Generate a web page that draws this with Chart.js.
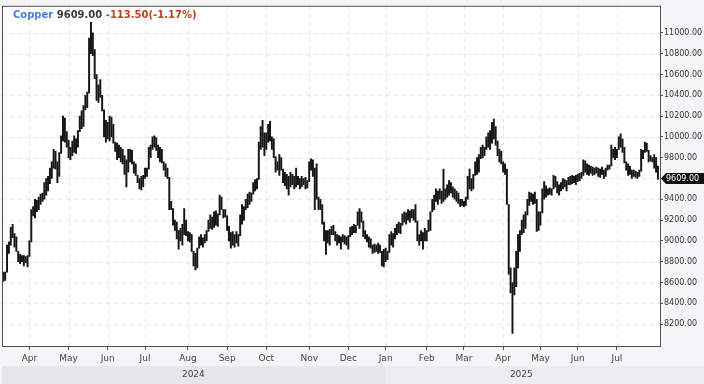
<!DOCTYPE html>
<html>
<head>
<meta charset="utf-8">
<title>Copper</title>
<script src="https://cdn.jsdelivr.net/npm/chart.js@4.4.1/dist/chart.umd.min.js"></script>
<style>
    html, body { margin: 0; padding: 0; background: #f4f5f6; }
    canvas { display: block; }
</style>
</head>
<body>
<canvas id="chart" width="704" height="384"></canvas>
<script>
// daily low / high per trading session, 11 Mar 2024 .. 31 Jul 2025
const lows = [
    8610,8620,8700,8880,8960,9030,8940,8900,8800,8780,
    8800,8760,8790,8750,8850,8990,9240,9220,9280,9300,
    9350,9380,9400,9440,9480,9550,9600,9700,9690,9560,
    9620,9840,9960,9950,9900,9800,9780,9820,9850,9840,
    9900,10050,10080,10100,10260,10280,10420,10800,10780,10560,
    10350,10330,10380,10250,10000,9950,9980,9960,10000,9940,
    9860,9780,9800,9760,9740,9640,9520,9660,9760,9740,
    9650,9630,9560,9500,9490,9520,9600,9620,9690,9800,
    9880,9900,9870,9800,9760,9750,9680,9620,9600,9300,
    9300,9150,9100,9020,8920,9000,8960,9060,9050,9000,
    8990,8900,8760,8720,8740,8930,8960,8940,8980,9000,
    9090,9120,9110,9130,9150,9140,9250,9300,9220,9230,
    9100,9000,8930,8960,8940,8980,8950,9050,9160,9200,
    9300,9320,9350,9380,9450,9480,9500,9590,9880,9900,
    9820,9880,9950,9960,9880,9800,9660,9680,9630,9680,
    9560,9530,9500,9440,9520,9540,9500,9520,9540,9500,
    9520,9540,9500,9510,9570,9680,9620,9300,9400,9300,
    9300,9160,9000,8870,8980,8960,9060,9060,9000,8960,
    8980,8920,8990,8970,8960,8920,9040,9060,9080,9080,
    9150,9120,9180,9040,9020,8990,8940,8930,8880,8890,
    8900,8880,8890,8760,8750,8800,8820,8890,8960,8940,
    9020,9060,9080,9070,9150,9180,9160,9200,9180,9220,
    9200,9180,9000,8960,9000,8920,9000,9000,9090,9100,
    9280,9300,9380,9350,9400,9360,9380,9400,9420,9440,
    9460,9420,9400,9380,9360,9330,9340,9330,9340,9400,
    9500,9480,9500,9630,9640,9660,9790,9800,9820,9880,
    9900,9880,9940,9980,9920,9820,9760,9740,9660,9640,
    9350,8680,8500,8110,8480,8560,8740,8900,9060,9080,
    9120,9250,9340,9380,9350,9360,9090,9100,9150,9270,
    9400,9420,9440,9450,9440,9500,9520,9460,9440,9480,
    9500,9520,9480,9540,9540,9550,9560,9540,9570,9580,
    9600,9630,9660,9640,9630,9650,9630,9640,9650,9620,
    9610,9640,9600,9620,9680,9690,9720,9800,9780,9800,
    9880,9900,9850,9750,9680,9630,9640,9600,9620,9610,
    9600,9620,9670,9790,9850,9860,9760,9770,9760,9700,
    9660,9590
];
const highs = [
    8700,8700,8960,8990,9130,9160,9070,9040,8900,8870,
    8860,8860,8850,8860,9000,9300,9330,9400,9390,9420,
    9450,9460,9560,9600,9620,9700,9760,9880,9860,9760,
    9850,10010,10200,10180,10050,9970,9900,9960,10010,9980,
    10060,10200,10250,10300,10400,10430,10950,11100,11000,10840,
    10600,10500,10550,10400,10260,10160,10140,10200,10190,10120,
    9950,9940,9920,9900,9880,9820,9780,9880,9880,9870,
    9760,9740,9630,9600,9620,9630,9700,9700,9900,9920,
    10000,10010,9990,9920,9900,9880,9760,9740,9700,9610,
    9380,9310,9200,9180,9100,9120,9160,9310,9200,9090,
    9080,9060,8900,8880,8930,9040,9060,9030,9060,9100,
    9200,9250,9230,9280,9290,9260,9440,9420,9300,9300,
    9240,9140,9080,9090,9060,9090,9060,9250,9350,9330,
    9400,9450,9470,9460,9560,9590,9600,9950,10100,10160,
    10040,10040,10120,10150,10000,9980,9810,9760,9830,9800,
    9690,9660,9640,9620,9660,9640,9620,9700,9620,9600,
    9620,9600,9610,9580,9760,9790,9780,9700,9740,9420,
    9400,9350,9180,9100,9100,9110,9140,9150,9090,9060,
    9050,9040,9060,9050,9040,9050,9130,9140,9160,9150,
    9280,9310,9280,9190,9100,9060,9040,9020,8960,8970,
    8960,8980,8960,8900,8920,8930,8900,9060,9090,9070,
    9120,9160,9180,9170,9260,9280,9270,9300,9290,9300,
    9300,9350,9190,9060,9100,9080,9120,9100,9200,9280,
    9400,9440,9500,9480,9500,9480,9690,9500,9540,9580,
    9560,9520,9500,9480,9460,9400,9400,9380,9420,9620,
    9690,9600,9640,9760,9800,9830,9900,9920,9900,10000,
    10040,10060,10140,10170,10100,9960,9880,9860,9760,9740,
    9690,9350,8740,8600,8740,8900,9060,9100,9200,9250,
    9280,9400,9470,9460,9450,9470,9400,9280,9280,9500,
    9570,9530,9500,9510,9500,9630,9620,9570,9540,9560,
    9600,9590,9580,9610,9620,9630,9620,9630,9640,9650,
    9660,9780,9770,9740,9730,9720,9710,9700,9710,9700,
    9690,9710,9680,9700,9730,9730,9920,9880,9900,9880,
    10000,10030,9980,9900,9760,9740,9720,9680,9680,9670,
    9660,9680,9880,9870,9950,9940,9870,9820,9800,9830,
    9800,9720
];

// first session of each month (index into the arrays above)
const monthStart  = [14, 35, 56, 76, 99, 120, 141, 164, 185, 205, 227, 247, 268, 288, 308, 329];
const monthLabels = ['Apr','May','Jun','Jul','Aug','Sep','Oct','Nov','Dec','Jan','Feb','Mar','Apr','May','Jun','Jul'];
const yearLabels  = ['2024', '2025'];
const yearStart   = [0, 205];
const priceTicks  = [8200,8400,8600,8800,9000,9200,9400,9600,9800,10000,10200,10400,10600,10800,11000];

const symbol = 'Copper';
const lastPrice = 9609.00;
const change = -113.50;
const changePct = -1.17;

const FONT = 'DejaVu Sans';

const deco = {
    id: 'deco',
    beforeDraw(chart) {
        const ctx = chart.ctx, a = chart.chartArea, xs = chart.scales.x, ys = chart.scales.y;
        ctx.save();
        ctx.fillStyle = '#f4f5f6';
        ctx.fillRect(0, 0, chart.width, chart.height);

        // year bands at the bottom
        const bandTop = chart.height - 18;
        const xJan = Math.round(xs.getPixelForValue(yearStart[1] - 0.5));
        ctx.fillStyle = '#e6e7e9';
        ctx.fillRect(a.left, bandTop, xJan - a.left, 18);
        ctx.fillStyle = '#ecedef';
        ctx.fillRect(xJan, bandTop, chart.width - xJan, 18);

        ctx.fillStyle = '#ffffff';
        ctx.fillRect(a.left, a.top, a.right - a.left, a.bottom - a.top);

        // dashed grid
        ctx.strokeStyle = '#e4e4e4';
        ctx.lineWidth = 1;
        ctx.setLineDash([4, 4]);
        ctx.beginPath();
        priceTicks.forEach(v => {
            const y = Math.round(ys.getPixelForValue(v)) + 0.5;
            ctx.moveTo(a.left, y); ctx.lineTo(a.right, y);
        });
        monthStart.forEach(i => {
            const x = Math.round(xs.getPixelForValue(i)) + 0.5;
            ctx.moveTo(x, a.top); ctx.lineTo(x, a.bottom);
        });
        ctx.stroke();
        ctx.restore();
    },
    afterDraw(chart) {
        const ctx = chart.ctx, a = chart.chartArea, xs = chart.scales.x, ys = chart.scales.y;
        ctx.save();

        // plot frame
        ctx.strokeStyle = '#505050';
        ctx.lineWidth = 1;
        ctx.strokeRect(a.left + 0.5, a.top + 0.5, a.right - a.left, a.bottom - a.top - 1);

        // year labels
        const bandTop = chart.height - 18;
        const xJan = xs.getPixelForValue(yearStart[1] - 0.5);
        const xEnd = xs.getPixelForValue(lows.length - 1);
        ctx.font = '9px ' + FONT;
        ctx.fillStyle = '#444';
        ctx.textAlign = 'center';
        ctx.textBaseline = 'middle';
        ctx.fillText(yearLabels[0], (a.left + xJan) / 2, bandTop + 9);
        ctx.fillText(yearLabels[1], (xJan + xEnd) / 2, bandTop + 9);

        // title line
        ctx.textAlign = 'left';
        ctx.textBaseline = 'alphabetic';
        ctx.font = 'bold 10px ' + FONT;
        let x = 13;
        const parts = [
            [symbol, '#4a7fd6'],
            [lastPrice.toFixed(2), '#3c3c3c'],
            [change.toFixed(2) + '(' + changePct.toFixed(2) + '%)', '#c23e1c']
        ];
        const space = ctx.measureText(' ').width;
        parts.forEach(([t, col]) => {
            ctx.fillStyle = col;
            ctx.fillText(t, x, 17.5);
            x += ctx.measureText(t).width + space;
        });

        // last price tag
        const yp = Math.round(ys.getPixelForValue(lastPrice)) + 0.5;
        ctx.fillStyle = '#111';
        ctx.beginPath();
        ctx.moveTo(a.right + 1, yp);
        ctx.lineTo(a.right + 6, yp - 5.5);
        ctx.lineTo(chart.width, yp - 5.5);
        ctx.lineTo(chart.width, yp + 5.5);
        ctx.lineTo(a.right + 6, yp + 5.5);
        ctx.closePath();
        ctx.fill();
        ctx.fillStyle = '#fff';
        ctx.font = '8px ' + FONT;
        ctx.textBaseline = 'middle';
        ctx.fillText(lastPrice.toFixed(2), a.right + 6, yp);
        ctx.restore();
    }
};

new Chart(document.getElementById('chart'), {
    type: 'bar',
    data: {
        datasets: [{
            data: lows.map((lo, i) => ({ x: i, y: [lo, highs[i]] })),
            backgroundColor: '#151515',
            borderWidth: 0,
            barThickness: 1.3
        }]
    },
    options: {
        responsive: false,
        animation: false,
        devicePixelRatio: 1,
        layout: { padding: { left: 2, top: 2, right: 0, bottom: 0 } },
        plugins: { legend: { display: false }, tooltip: { enabled: false } },
        scales: {
            x: {
                type: 'linear',
                offset: false,
                min: -0.7,
                max: 352.1,
                afterBuildTicks: s => { s.ticks = monthStart.map(v => ({ value: v })); },
                afterFit: s => { s.height = 37; },
                ticks: {
                    autoSkip: false,
                    maxRotation: 0,
                    padding: 3,
                    color: '#444',
                    font: { family: FONT, size: 9 },
                    callback: (v, i) => monthLabels[i]
                },
                grid: { offset: false, drawOnChartArea: false, tickLength: 3, tickColor: '#505050' },
                border: { display: false }
            },
            y: {
                type: 'linear',
                position: 'right',
                min: 7980,
                max: 11260,
                afterBuildTicks: s => { s.ticks = priceTicks.map(v => ({ value: v })); },
                afterFit: s => { s.width = 44; },
                ticks: {
                    padding: 1,
                    color: '#333',
                    font: { family: FONT, size: 8 },
                    callback: v => Number(v).toFixed(2)
                },
                grid: { drawOnChartArea: false, tickLength: 3, tickColor: '#505050' },
                border: { display: false }
            }
        }
    },
    plugins: [deco]
});
</script>
</body>
</html>
